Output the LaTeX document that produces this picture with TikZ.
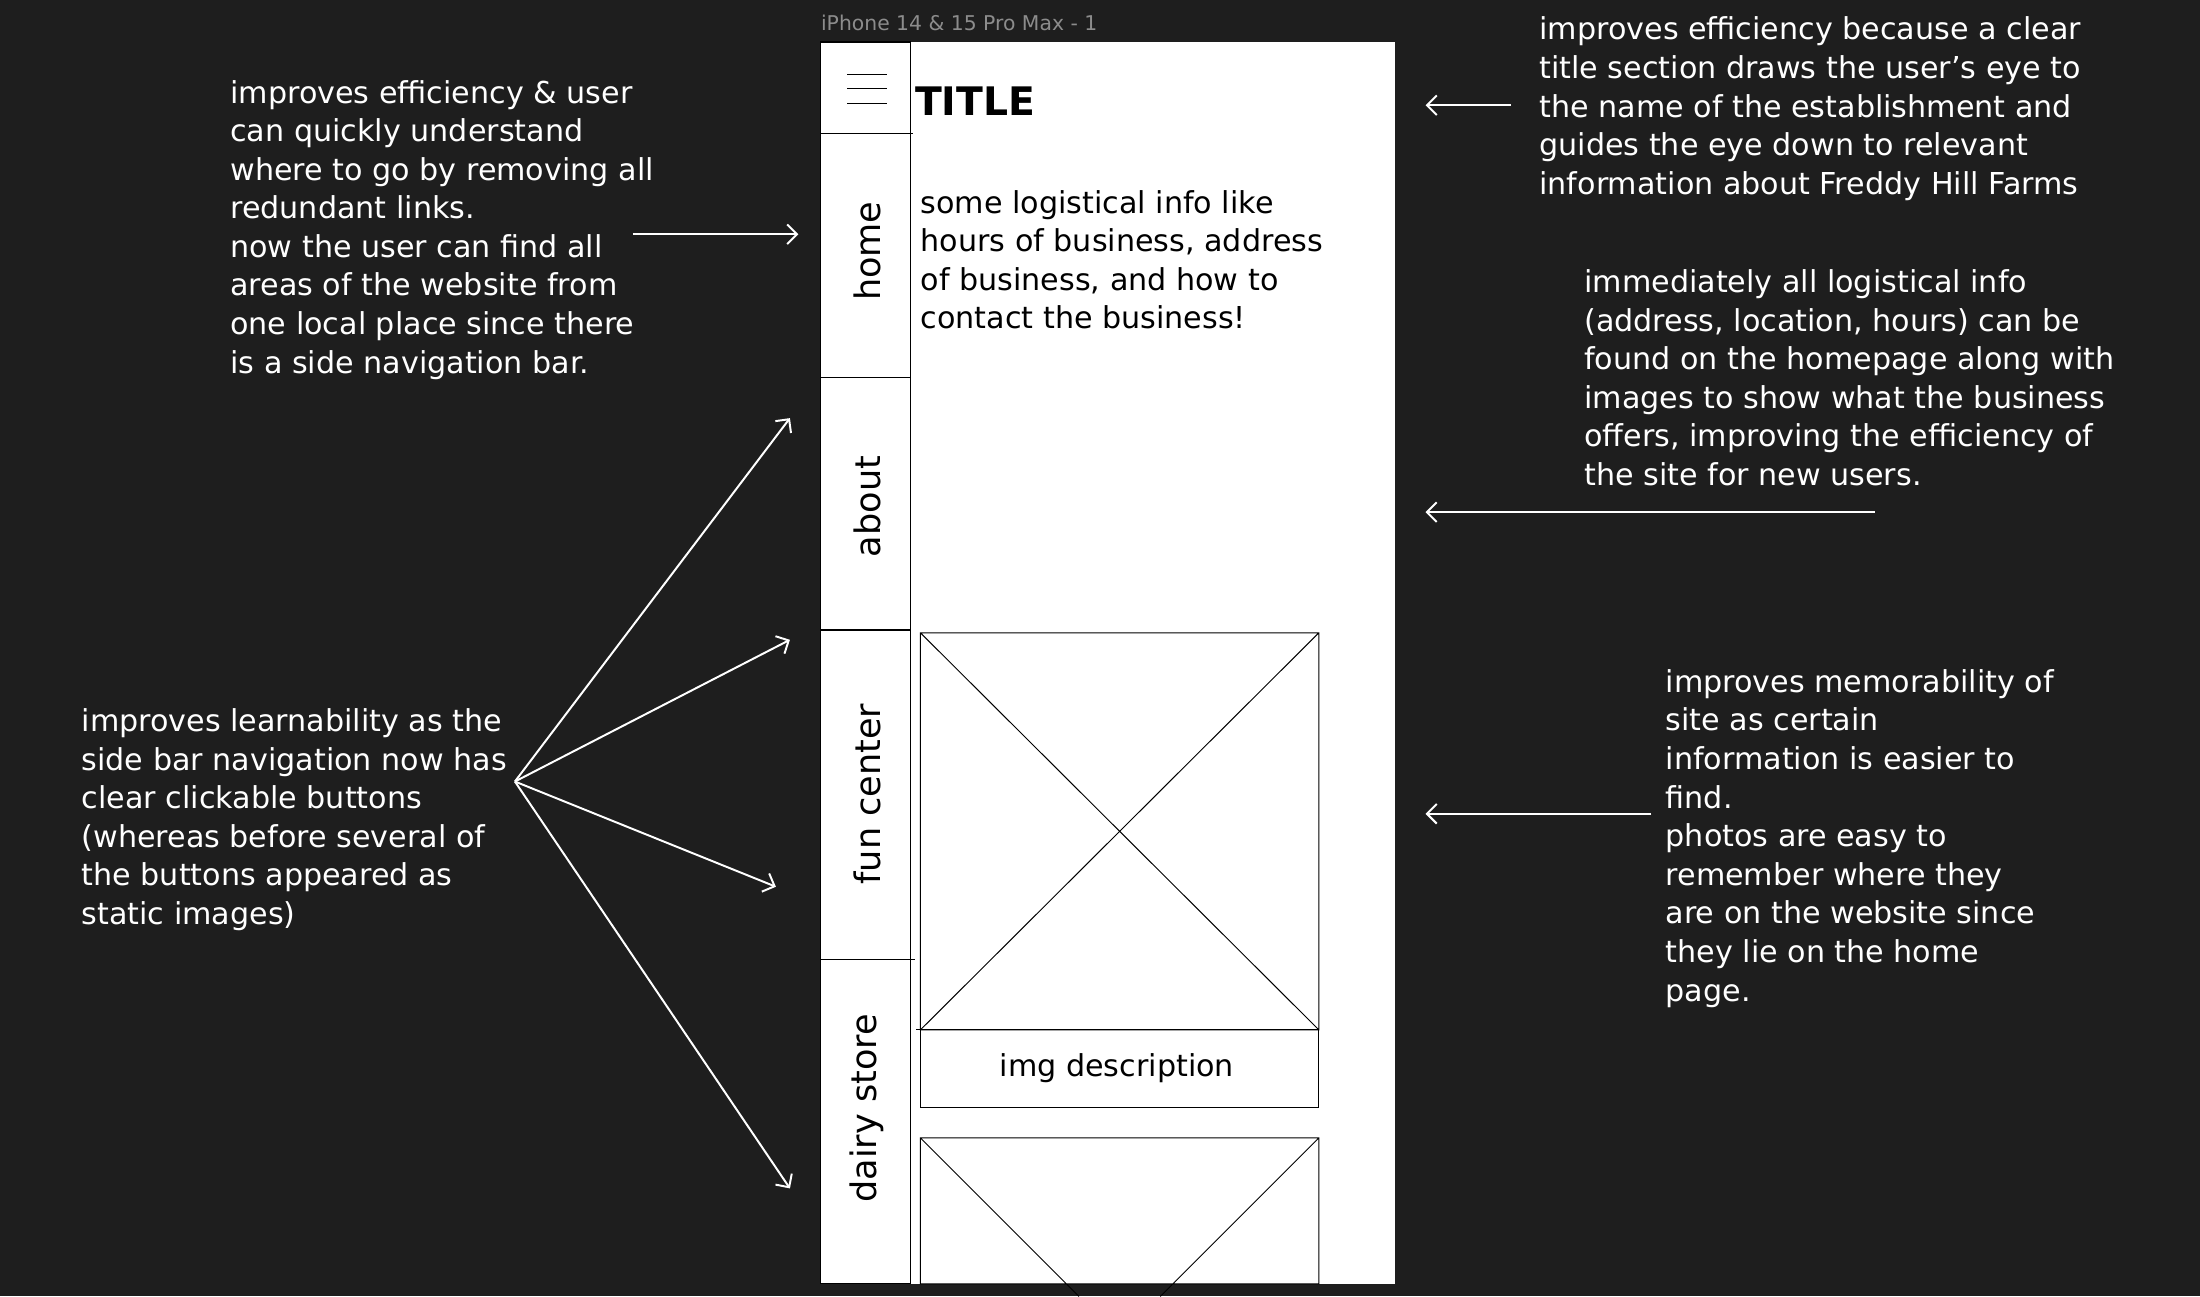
\documentclass[tikz,border=0pt]{standalone}
\usepackage{fontspec}
\setmainfont{DejaVu Sans}
\usetikzlibrary{arrows.meta}
\definecolor{canvas}{HTML}{1E1E1E}
\definecolor{framelabel}{HTML}{8C8C8C}
\newcommand{\notefont}{\fontsize{21.5}{27.5}\selectfont}
\begin{document}
\begin{tikzpicture}[x=1pt, y=-1pt,
  note/.style={anchor=north west, inner sep=0pt, align=left, text=white, font=\notefont},
  pointer/.style={draw=white, line width=1.4pt, -{Straight Barb[length=7pt,width=14pt]}},
  wire/.style={draw=black, line width=0.9pt},
  navlabel/.style={rotate=90, inner sep=0pt, font=\fontsize{25}{30}\selectfont}]
\useasboundingbox[fill=canvas] (0,0) rectangle (1568,924);
% phone frame
\node[anchor=base west, inner sep=0pt, text=framelabel, font=\fontsize{14.5}{17}\selectfont] (framename) at (585,22) {iPhone 14 \& 15 Pro Max - 1};
\fill[white] (585,30) rectangle (994,915);
\draw[wire] (585,30) rectangle (649,915);
\draw[wire] (585,95) -- (651,95);
\draw[wire] (585,269) -- (649,269);
\draw[wire] (585,449) -- (649,449);
\draw[wire] (585,684) -- (652,684);
\foreach \y in {53,63,74}
  \draw[line width=0.7pt] (604,\y) -- (632,\y);
\node[anchor=base west, inner sep=0pt, font=\bfseries\fontsize{28}{34}\selectfont] (title) at (652,82) {TITLE};
\node[note, text=black] (info) at (656,132.5) {\strut some logistical info like\\hours of business, address\\of business, and how to\\contact the business!};
% side navigation
\node[navlabel] (home) at (618,179) {home};
\node[navlabel] (about) at (618,361) {about};
\node[navlabel] (fun) at (618,566) {fun center};
\node[navlabel] (dairy) at (618,790) {dairy store};
% image placeholders
\draw[wire, line width=0.7pt] (656,451) rectangle (940,734) (656,451) -- (940,734) (940,451) -- (656,734);
\draw[wire] (653,734) -- (940,734);
\draw[wire, line width=0.7pt] (656,734) rectangle (940,789);
\node[font=\notefont] (imgdesc) at (796,761) {img description};
\draw[wire, line width=0.7pt] (656,811) rectangle (940,915) (656,811) -- (769,924) (940,811) -- (827,924);
% notes
\node[note] (effleft) at (164,54) {\strut improves efficiency \& user\\can quickly understand\\where to go by removing all\\redundant links.\\now the user can find all\\areas of the website from\\one local place since there\\is a side navigation bar.};
\node[note] (learn) at (58,502) {\strut improves learnability as the\\side bar navigation now has\\clear clickable buttons\\(whereas before several of\\the buttons appeared as\\static images)};
\node[note] (efftitle) at (1097,9) {\strut improves efficiency because a clear\\title section draws the user’s eye to\\the name of the establishment and\\guides the eye down to relevant\\information about Freddy Hill Farms};
\node[note] (logistic) at (1129,189) {\strut immediately all logistical info\\(address, location, hours) can be\\found on the homepage along with\\images to show what the business\\offers, improving the efficiency of\\the site for new users.};
\node[note] (memo) at (1187,474) {\strut improves memorability of\\site as certain\\information is easier to\\find.\\photos are easy to\\remember where they\\are on the website since\\they lie on the home\\page.};
% arrows
\coordinate (navtail) at (451,167);
\coordinate (navtip) at (569,167);
\coordinate (hub) at (367,557);
\coordinate (tipa) at (563,298);
\coordinate (tipb) at (563,456);
\coordinate (tipc) at (553,632);
\coordinate (tipd) at (563,847);
\coordinate (titletail) at (1077,75);
\coordinate (titletip) at (1016,75);
\coordinate (logtail) at (1336,365);
\coordinate (logtip) at (1016,365);
\coordinate (memotail) at (1177,580);
\coordinate (memotip) at (1016,580);
\draw[pointer] (navtail) -- (navtip);
\foreach \t in {tipa,tipb,tipc,tipd}
  \draw[pointer] (hub) -- (\t);
\draw[pointer] (titletail) -- (titletip);
\draw[pointer] (logtail) -- (logtip);
\draw[pointer] (memotail) -- (memotip);
\end{tikzpicture}
\end{document}
